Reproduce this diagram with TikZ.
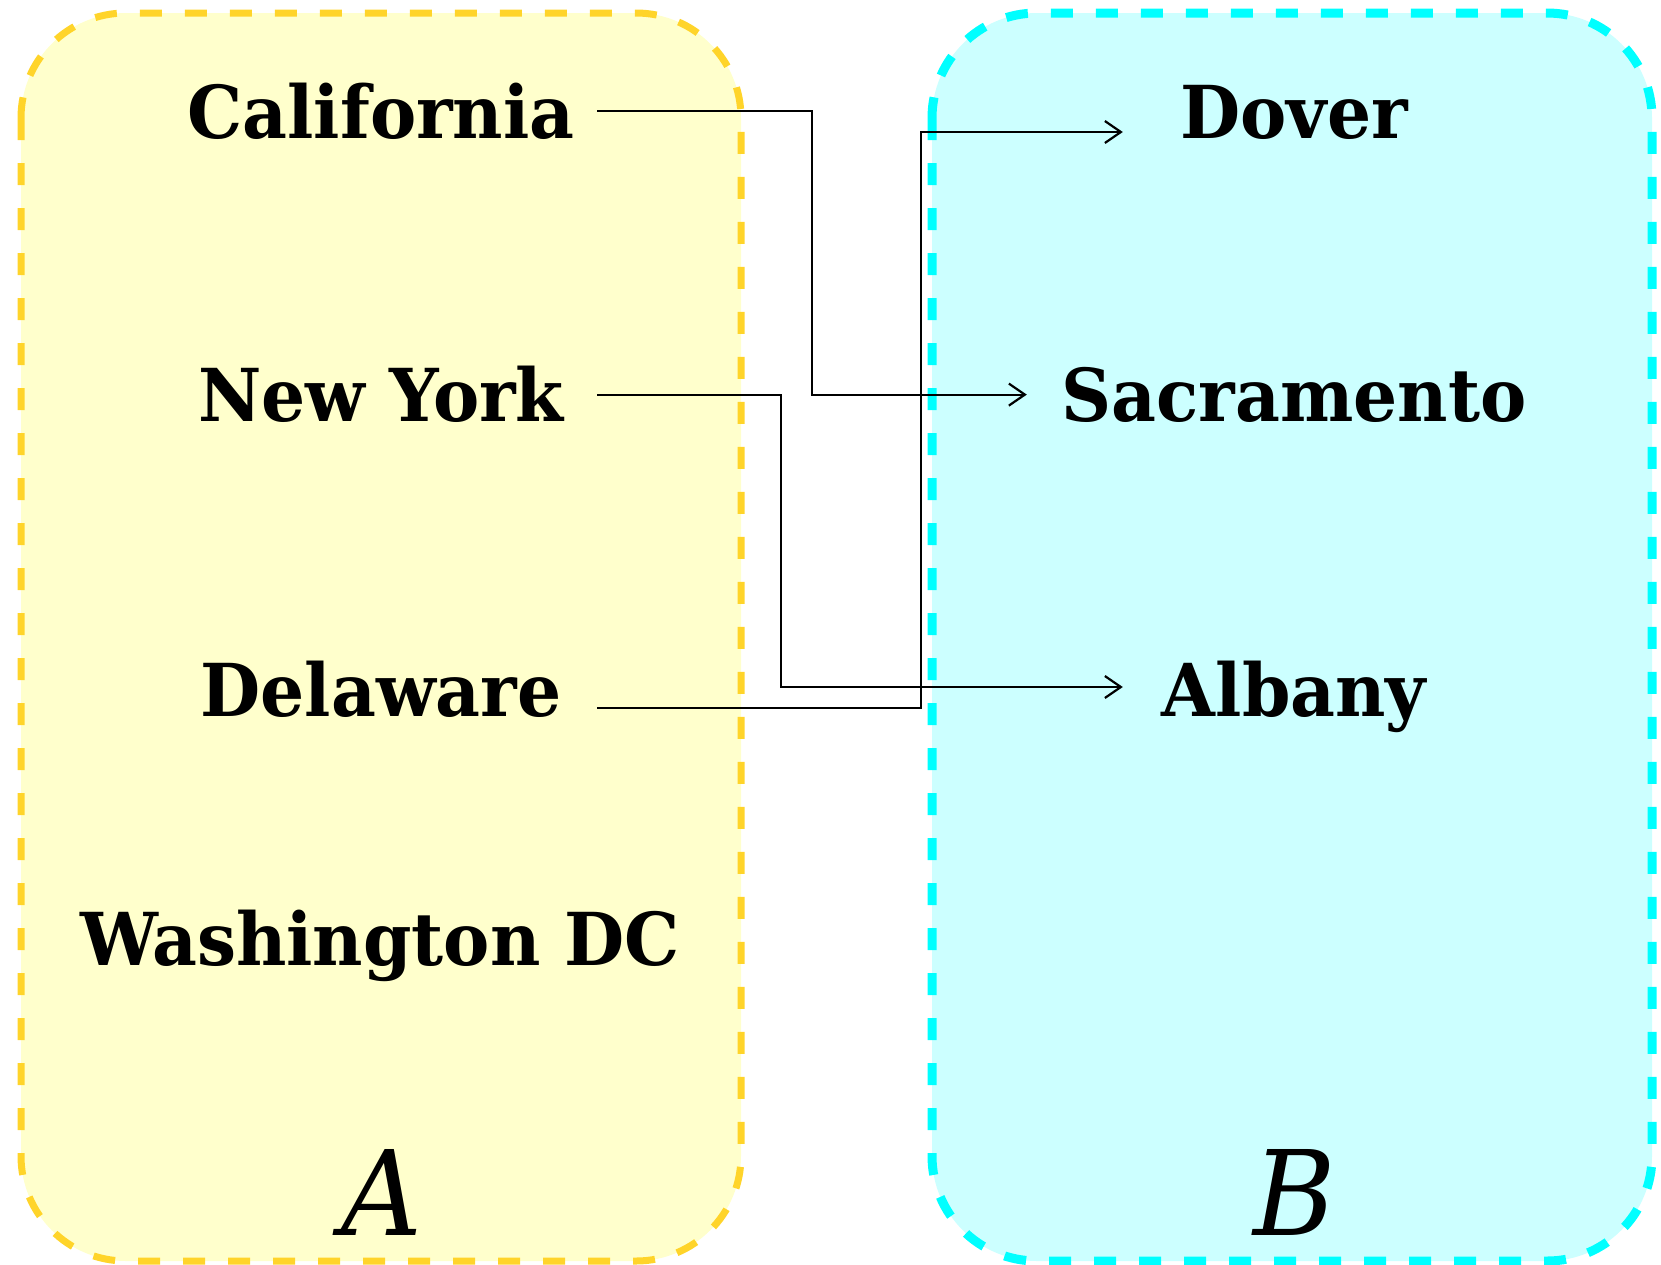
\documentclass[tikz,border=0pt]{standalone}
\usepackage{fontspec}
\setmainfont{DejaVu Serif}
\newfontfamily\lblfont[FakeStretch=0.95]{DejaVu Serif}
\usetikzlibrary{arrows.meta}
\definecolor{yfill}{HTML}{FFFFCC}
\definecolor{ystroke}{HTML}{FFD42A}
\definecolor{cfill}{HTML}{CCFFFF}
\definecolor{cstroke}{HTML}{00FFFF}
\begin{document}
\begin{tikzpicture}[x=1pt,y=-1pt,
  setbox/.style={rounded corners=105pt, dash pattern=on 22pt off 23pt},
  lbl/.style={anchor=base, inner sep=0pt, align=center, font=\lblfont\fontsize{73}{80}\selectfont\bfseries},
  setname/.style={anchor=base, inner sep=0pt, font=\lblfont\fontsize{118}{120}\selectfont\itshape},
  conn/.style={line width=2.2pt, -{Straight Barb[length=16pt,width=22pt,line width=2.2pt]}}
]
\useasboundingbox (0,0) rectangle (1661,1264);
\draw[setbox, fill=yfill, draw=ystroke, line width=7pt] (21,13) rectangle (741,1261);
\draw[setbox, fill=cfill, draw=cstroke, line width=9pt] (932,13) rectangle (1652,1261);

\node[lbl, minimum width=432pt] (cal) at (381,138) {California};
\node[lbl, minimum width=432pt] (ny) at (381,421.6) {New York};
\node[lbl, minimum width=432pt] (del) at (381,716) {Delaware};
\node[lbl, minimum width=432pt] (wdc) at (380,965) {Washington DC};
\node[setname] (A) at (382,1235) {A};

\node[lbl, minimum width=342pt] (dov) at (1294,138) {Dover};
\node[lbl, minimum width=534pt] (sac) at (1294,421.6) {Sacramento};
\node[lbl, minimum width=342pt] (alb) at (1294,716) {Albany};
\node[setname] (B) at (1295,1235) {B};

\draw[conn] ([yshift=27pt]cal.base east) -- ++(215,0) |- ([yshift=27pt]sac.base west);
\draw[conn] ([yshift=27pt]ny.base east) -- ++(184,0) |- ([yshift=29pt]alb.base west);
\draw[conn] ([yshift=8pt]del.base east) -- ++(324,0) |- ([yshift=6pt]dov.base west);
\end{tikzpicture}
\end{document}
